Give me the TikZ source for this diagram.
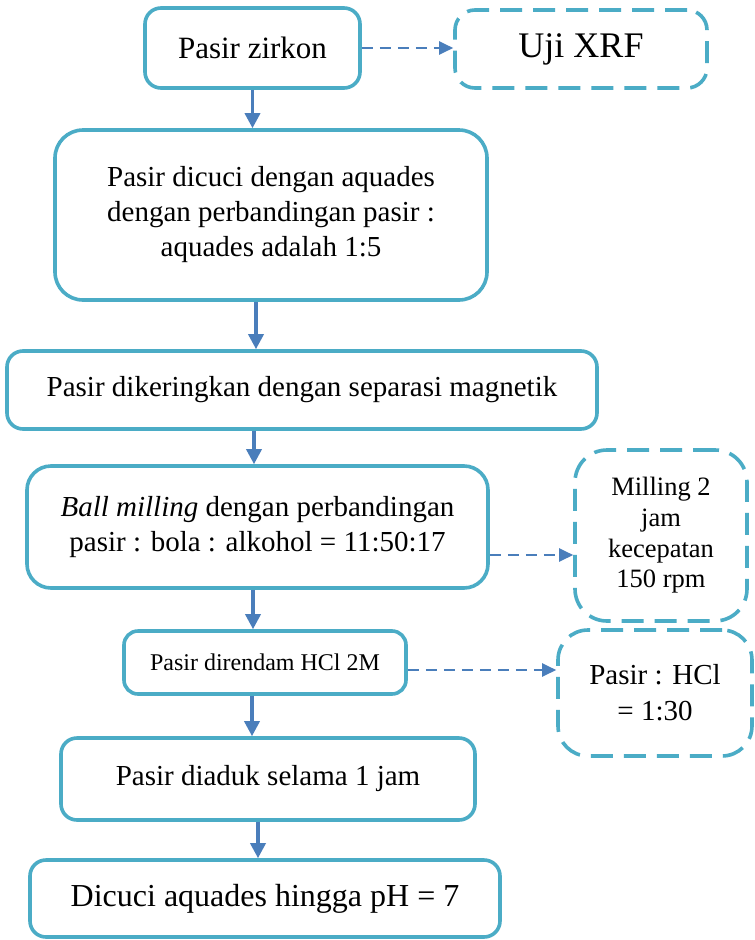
\documentclass[tikz,border=0pt]{standalone}
\usepackage{fontspec}
\setmainfont{Liberation Serif}
\usetikzlibrary{arrows.meta,calc}
\definecolor{boxc}{HTML}{4BACC6}
\definecolor{arrc}{HTML}{4A7EBB}
\begin{document}
\begin{tikzpicture}[x=1pt,y=-1pt,
  box/.style={draw=boxc, line width=3.6pt, rounded corners=16pt, fill=white, align=center, inner sep=0pt},
  dbox/.style={box, dash pattern=on 22pt off 11pt, rounded corners=28pt},
  arr/.style={draw=arrc, line width=3.4pt, -{Triangle[length=15pt,width=15pt]}},
  darr/.style={draw=arrc, line width=2.2pt, dash pattern=on 11pt off 7pt, -{Triangle[length=14pt,width=13pt]}},
  f29/.style={font=\fontsize{29}{35}\selectfont}]
\fill[white] (0,0) rectangle (755,940);
\useasboundingbox (0,0) rectangle (755,940);

\node[box, minimum width=215pt, minimum height=80pt, font=\fontsize{31}{36}\selectfont] (zirkon) at (252.5,48) {Pasir zirkon};
\node[dbox, minimum width=252pt, minimum height=78pt, rounded corners=20pt, font=\fontsize{36}{40}\selectfont] (xrf) at (581,49) {Uji XRF};
\node[box, minimum width=432pt, minimum height=170pt, rounded corners=28pt, f29] (dicuci) at (271,215) {Pasir dicuci dengan aquades\\dengan perbandingan pasir :\\aquades adalah 1:5};
\node[box, minimum width=590pt, minimum height=78pt, f29] (kering) at (302,390) {Pasir dikeringkan dengan separasi magnetik};
\node[box, minimum width=461pt, minimum height=122pt, rounded corners=24pt, f29] (ball) at (257.5,527) {\textit{Ball milling} dengan perbandingan\\pasir : bola : alkohol = 11:50:17};
\node[dbox, minimum width=172pt, minimum height=171pt, rounded corners=32pt, font=\fontsize{26.5}{30.7}\selectfont] (mill) at (661,535.5) {Milling 2\\jam\\kecepatan\\150 rpm};
\node[box, minimum width=282pt, minimum height=63pt, rounded corners=14pt, font=\fontsize{24}{28}\selectfont] (hcl) at (265,662.5) {Pasir direndam HCl 2M};
\node[dbox, minimum width=194pt, minimum height=126pt, rounded corners=30pt, font=\fontsize{29}{36}\selectfont] (ratio) at (655,693) {Pasir : HCl\\= 1:30};
\node[box, minimum width=414pt, minimum height=82pt, f29] (aduk) at (268,779) {Pasir diaduk selama 1 jam};
\node[box, minimum width=470pt, minimum height=77pt, font=\fontsize{32}{38}\selectfont] (akhir) at (265,898.5) {Dicuci aquades hingga pH = 7};

\draw[arr] (zirkon.south) -- (dicuci.north -| zirkon.south);
\draw[arr] (dicuci.south -| 256,0) -- (kering.north -| 256,0);
\draw[arr] (kering.south -| 254,0) -- (ball.north -| 254,0);
\draw[arr] (ball.south -| 253,0) -- (hcl.north -| 253,0);
\draw[arr] (hcl.south -| 252,0) -- (aduk.north -| 252,0);
\draw[arr] (aduk.south -| 258,0) -- (akhir.north -| 258,0);

\draw[darr] (zirkon.east) -- (xrf.west |- zirkon.east);
\draw[darr] (ball.east |- 0,555) -- (mill.west |- 0,555);
\draw[darr] (hcl.east |- 0,670) -- (ratio.west |- 0,670);
\end{tikzpicture}
\end{document}
